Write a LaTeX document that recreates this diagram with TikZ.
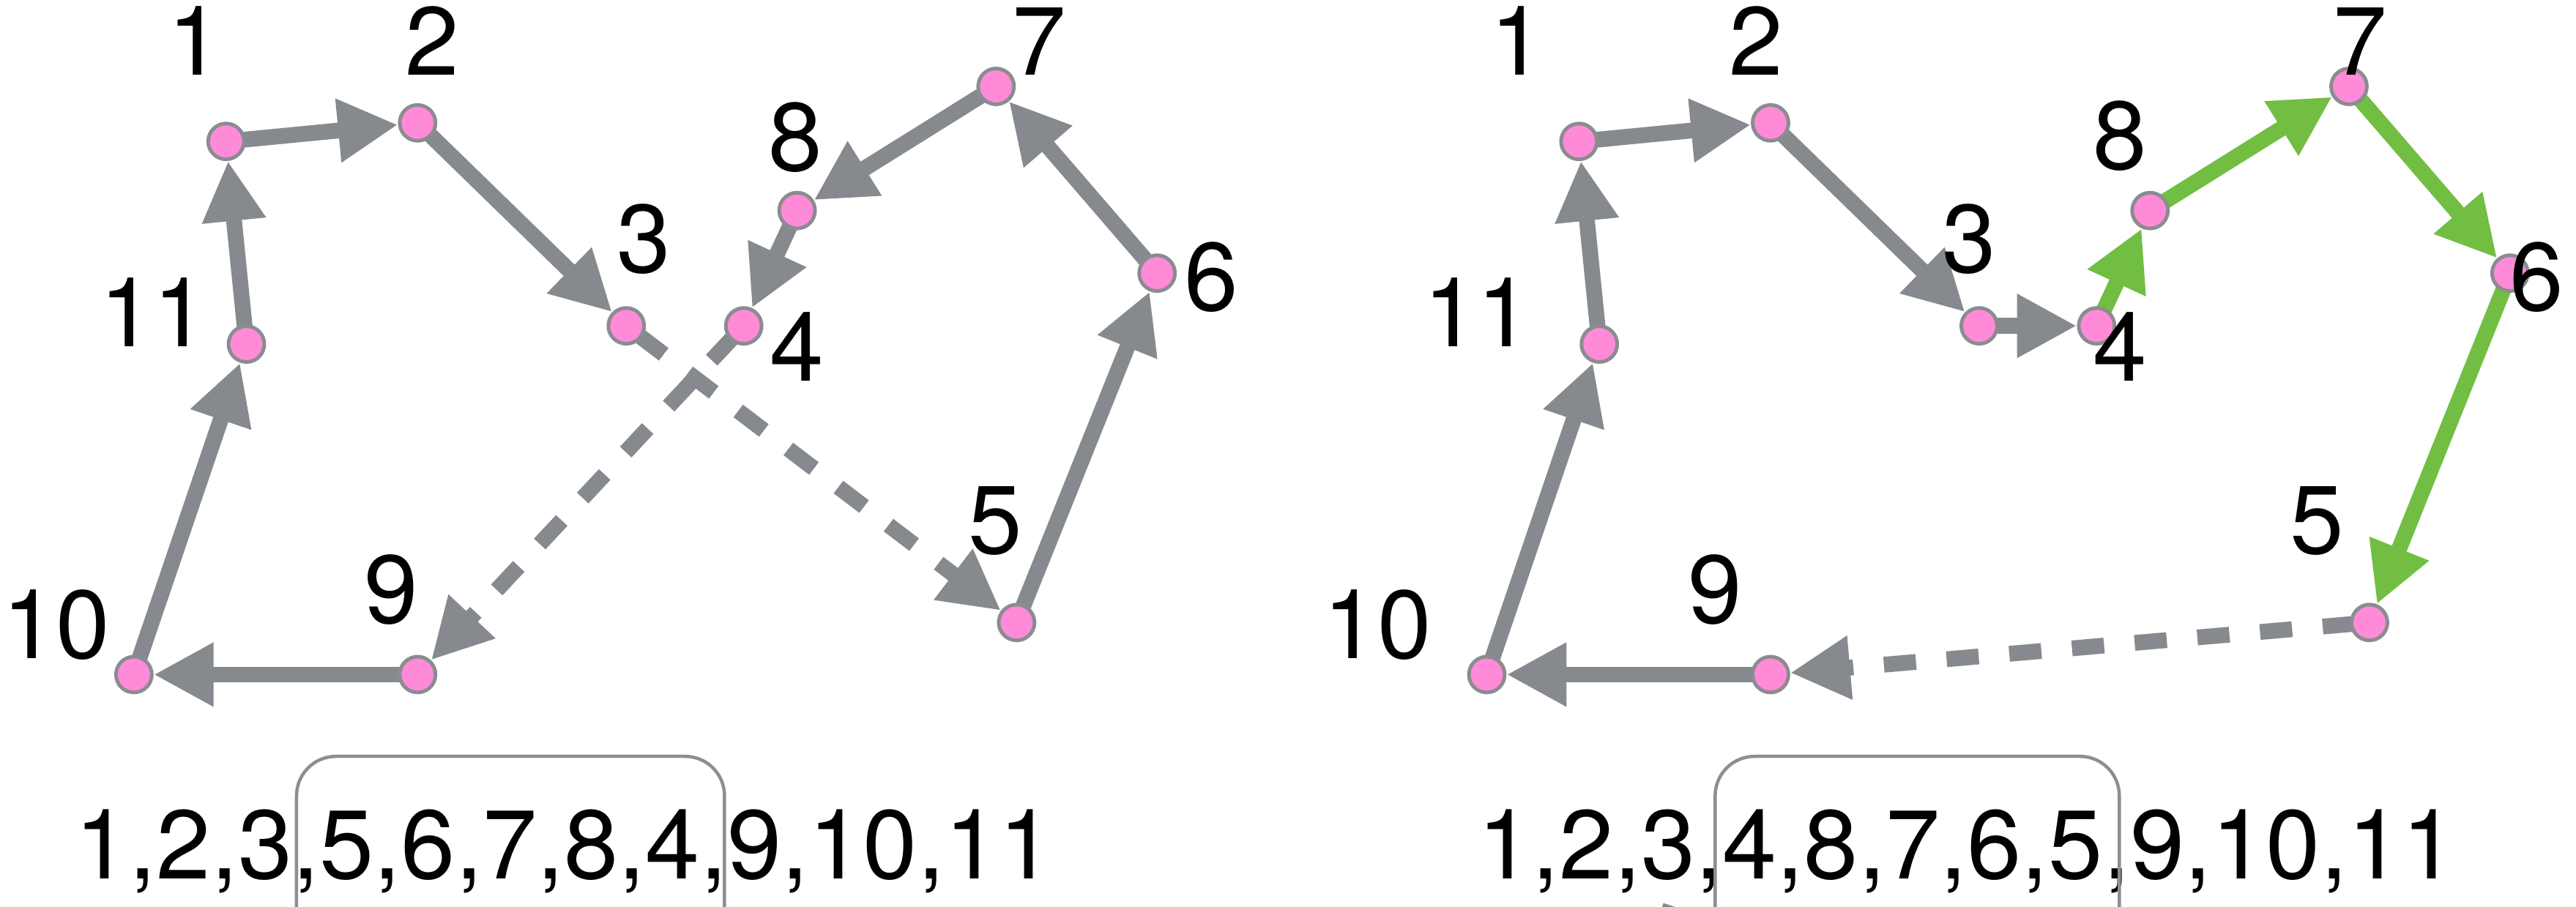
\documentclass[tikz,border=0pt]{standalone}
\usepackage{fontspec}
\setmainfont{TeX Gyre Heros}
\usetikzlibrary{arrows.meta}
\definecolor{edgegray}{HTML}{86898D}
\definecolor{nodegray}{HTML}{8A8C90}
\definecolor{nodepink}{HTML}{FF8AD8}
\definecolor{edgegreen}{HTML}{71BE43}
\definecolor{boxgray}{HTML}{8C8E91}
\pgfdeclarelayer{bg}
\pgfsetlayers{bg,main}
\begin{document}
\begin{tikzpicture}[x=1pt,y=-1pt,
  vtx/.style={circle, draw=nodegray, fill=nodepink, line width=2.2pt, minimum size=21.8pt, inner sep=0pt},
  lbl/.style={anchor=base, inner sep=0pt, font=\fontsize{59}{59}\selectfont},
  seqtext/.style={anchor=base west, inner sep=0pt, font=\fontsize{59.5}{60}\selectfont},
  conn/.style={draw=edgegray, line width=9.6pt, shorten <=-3pt, -{Triangle[length=36.5pt,width=36.5pt]}},
  dashconn/.style={conn, dash pattern=on 19.6pt off 18.7pt},
  greenconn/.style={conn, draw=edgegreen},
  seqbox/.style={draw=boxgray, line width=2pt, rounded corners=24pt}
]
\useasboundingbox (0,0) rectangle (1568,552);
\clip (0,0) rectangle (1568,552);

% vertices
\foreach \n/\x/\y in {1/137.6/86.1, 2/254.2/74.8, 3/381.2/198.4, 4/452.7/198.4,
  5/618.8/379, 6/704.3/166.3, 7/606.3/52.6, 8/485.2/128.2, 9/254.2/410.7,
  10/81.5/410.7, 11/150/209.5}{
  \node[vtx] (L\n) at (\x,\y) {};
  \node[vtx] (R\n) at (\x+823.5,\y) {};
}

% labels left
\node[lbl] (lL1) at (118.5,45.5) {1};
\node[lbl] (lL2) at (263,45.5) {2};
\node[lbl] (lL7) at (632.5,45.5) {7};
\node[lbl] (lL8) at (484,104) {8};
\node[lbl] (lL3) at (392,166) {3};
\node[lbl] (lL11) at (93.5,211) {11};
\node[lbl] (lL4) at (485,232) {4};
\node[lbl] (lL6) at (737.5,189) {6};
\node[lbl] (lL5) at (606,337) {5};
\node[lbl] (lL9) at (238,379.5) {9};
\node[lbl] (lL10) at (34.2,401) {10};

% labels right
\node[lbl] (lR1) at (923.8,45.5) {1};
\node[lbl] (lR2) at (1068.8,45.5) {2};
\node[lbl] (lR7) at (1436.6,45.5) {7};
\node[lbl] (lR8) at (1290.4,103) {8};
\node[lbl] (lR3) at (1198.5,166) {3};
\node[lbl] (lR11) at (899.4,211) {11};
\node[lbl] (lR4) at (1290.6,232) {4};
\node[lbl] (lR6) at (1544,189) {6};
\node[lbl] (lR5) at (1410.3,337) {5};
\node[lbl] (lR9) at (1043.8,379.5) {9};
\node[lbl] (lR10) at (838.6,401) {10};

\begin{pgfonlayer}{bg}
% left tour
\draw[conn] (L1) -- (L2);
\draw[conn] (L2) -- (L3);
\draw[dashconn] (L3) -- (L5);
\draw[conn] (L5) -- (L6);
\draw[conn] (L6) -- (L7);
\draw[conn] (L7) -- (L8);
\draw[conn] (L8) -- (L4);
\draw[dashconn] (L4) -- (L9);
\draw[conn] (L9) -- (L10);
\draw[conn] (L10) -- (L11);
\draw[conn] (L11) -- (L1);
% right tour
\draw[conn] (R1) -- (R2);
\draw[conn] (R2) -- (R3);
\draw[conn] (R3) -- (R4);
\draw[greenconn] (R4) -- (R8);
\draw[greenconn] (R8) -- (R7);
\draw[greenconn] (R7) -- (R6);
\draw[greenconn] (R6) -- (R5);
\draw[dashconn] (R5) -- (R9);
\draw[conn] (R9) -- (R10);
\draw[conn] (R10) -- (R11);
\draw[conn] (R11) -- (R1);
\end{pgfonlayer}

% sequences
\node[seqtext] (seqL) at (45.5,535) {1,2,3,5,6,7,8,4,9,10,11};
\node[seqtext] (seqR) at (899.5,535) {1,2,3,4,8,7,6,5,9,10,11};
\draw[seqbox] (180.5,590) -- (180.5,460.5) -- (441,460.5) -- (441,590);
\draw[seqbox] (1044,590) -- (1044,460.5) -- (1290,460.5) -- (1290,590);

% clipped fragment at bottom edge
\fill[edgegray] (1011.5,553) -- (1012.5,549.8) -- (1022,553) -- cycle;
\end{tikzpicture}
\end{document}
